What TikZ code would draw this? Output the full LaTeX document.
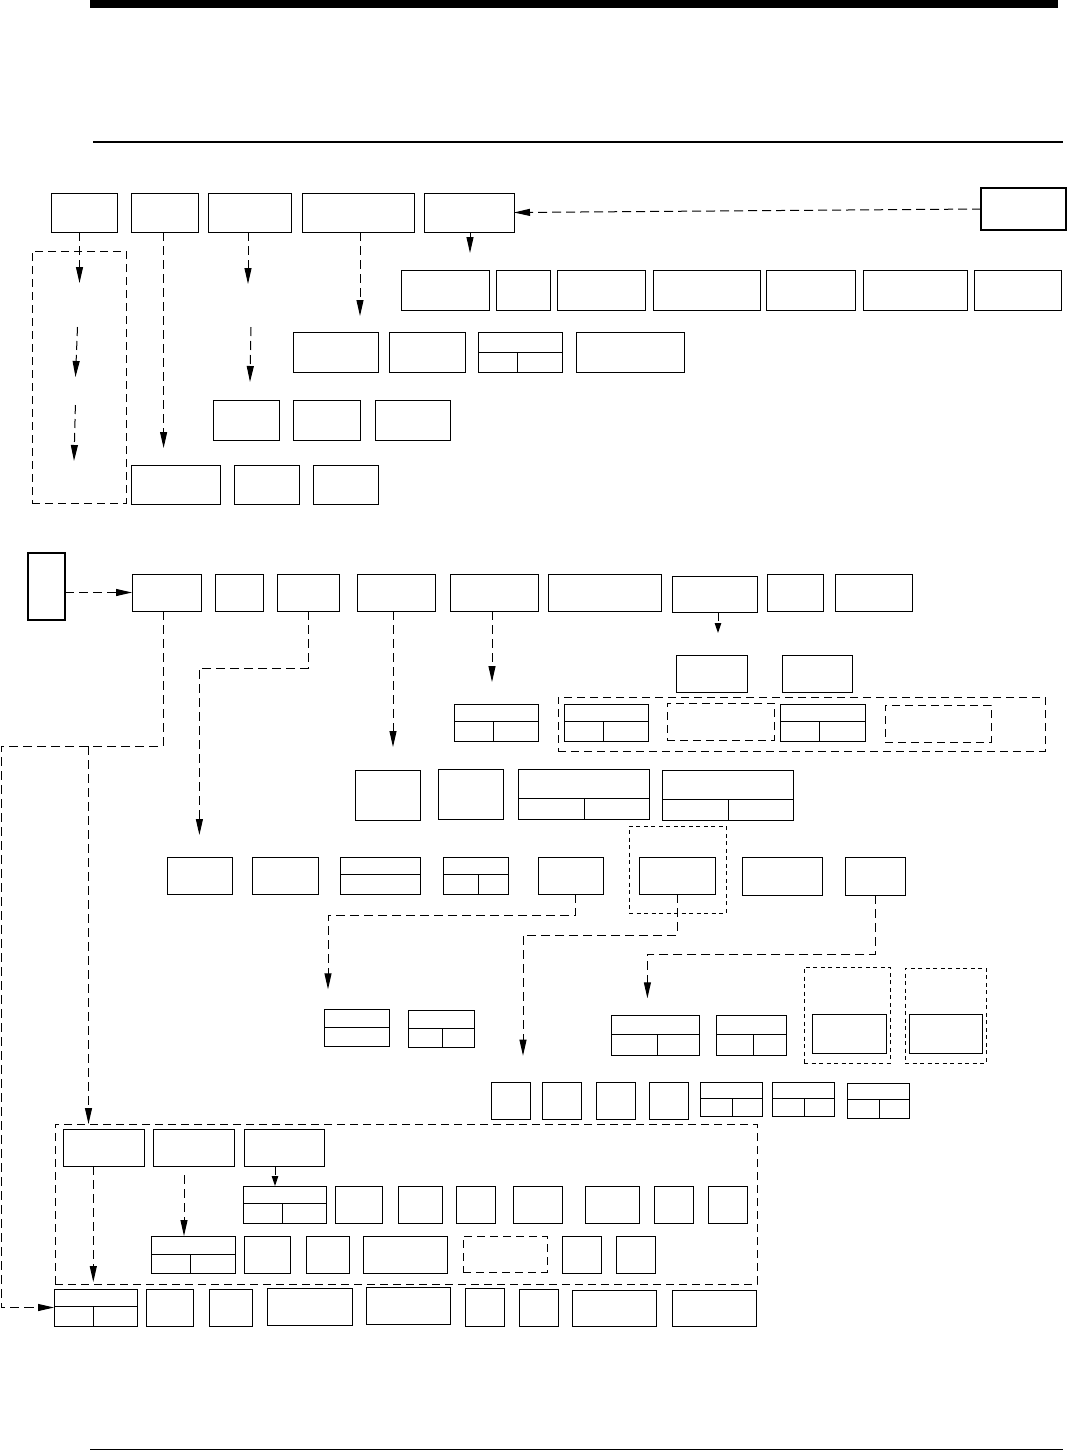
\documentclass[tikz,border=0pt]{standalone}
\usetikzlibrary{arrows.meta}
\tikzset{
  box/.style={draw, line width=1pt, inner sep=0pt, outer sep=0pt},
  thickbox/.style={box, line width=2.2pt},
  dbox/.style={box, dash pattern=on 8pt off 5pt},
  fdbox/.style={box, dash pattern=on 4pt off 3.5pt},
  conn/.style={line width=1pt, dash pattern=on 9pt off 5pt},
  arr/.style={conn, -{Triangle[length=16pt,width=7pt]}},
  sarr/.style={conn, -{Triangle[length=10pt,width=6.5pt]}},
  divl/.style={line width=1pt},
}
% box: [style]{name}{x1}{y1}{x2}{y2}
\newcommand{\Bx}[6][]{\pgfmathsetmacro\bxw{#5-#3}\pgfmathsetmacro\bxh{#6-#4}%
  \node[box,#1,minimum width=\bxw pt,minimum height=\bxh pt] (#2) at ({(#3+#5)/2},{(#4+#6)/2}) {};}
% split box: {name}{x1}{y1}{x2}{y2}{ydiv}{xdiv}
\newcommand{\SpBx}[7]{\Bx{#1}{#2}{#3}{#4}{#5}%
  \draw[divl] (#2,#6) -- (#4,#6); \draw[divl] (#7,#6) -- (#7,#5);}
% horizontally split box: {name}{x1}{y1}{x2}{y2}{ydiv}
\newcommand{\HSpBx}[6]{\Bx{#1}{#2}{#3}{#4}{#5}%
  \draw[divl] (#2,#6) -- (#4,#6);}
\begin{document}
\begin{tikzpicture}[x=1pt,y=-1pt]
\useasboundingbox (0,0) rectangle (1069,1451);
% header / footer rules
\fill (90,0) rectangle (1058,8);
\draw[line width=2pt] (93,142) -- (1063,142);
\draw[line width=1.3pt] (90,1449.5) -- (1063,1449.5);

% ---------------- section 1 ----------------
\Bx{A}{51}{193}{117}{232}
\Bx{B}{131}{193}{198}{232}
\Bx{C}{208}{193}{291}{232}
\Bx{D}{302}{193}{414}{232}
\Bx{E}{424}{193}{514}{232}
\Bx[thickbox]{Rbox}{981}{188}{1066}{230}

\Bx{E1}{401}{270}{489}{310}
\Bx{E2}{496}{270}{550}{310}
\Bx{E3}{557}{270}{645}{310}
\Bx{E4}{653}{270}{760}{310}
\Bx{E5}{766}{270}{855}{310}
\Bx{E6}{863}{270}{967}{310}
\Bx{E7}{974}{270}{1061}{310}

\Bx{D1}{293}{332}{378}{372}
\Bx{D2}{389}{332}{465}{372}
\SpBx{D3}{478}{332}{562}{372}{352}{517}
\Bx{D4}{576}{332}{684}{372}

\Bx{C1}{213}{400}{279}{440}
\Bx{C2}{293}{400}{360}{440}
\Bx{C3}{375}{400}{450}{440}

\Bx{G1}{131}{465}{220}{504}
\Bx{G2}{234}{465}{299}{504}
\Bx{G3}{313}{465}{378}{504}

\Bx[dbox]{LeftDash}{32}{251}{126}{503}

\coordinate (a1) at (79.5,283);
\coordinate (a2s) at (77.5,327); \coordinate (a2) at (75.5,377);
\coordinate (a3s) at (75.4,405); \coordinate (a3) at (74,461);
\coordinate (b1) at (163.6,448);
\coordinate (c1) at (248,284);
\coordinate (c2s) at (251,327); \coordinate (c2) at (250,382);
\coordinate (d1) at (360,316);
\coordinate (e1) at (470,253);
\draw[arr] (a1 |- A.south) -- (a1);
\draw[arr] (a2s) -- (a2);
\draw[arr] (a3s) -- (a3);
\draw[arr] (b1 |- B.south) -- (b1);
\draw[arr] (c1 |- C.south) -- (c1);
\draw[arr] (c2s) -- (c2);
\draw[arr] (d1 |- D.south) -- (d1);
\draw[arr] (e1 |- E.south) -- (e1);
\draw[arr] (Rbox.west) -- (E.east);

% ---------------- section 2 ----------------
\Bx[thickbox]{Lbox}{28}{553}{65}{620}
\Bx{P1}{132}{574}{201}{611}
\Bx{P2}{215}{574}{263}{611}
\Bx{P3}{277}{574}{339}{611}
\Bx{P4}{357}{574}{435}{611}
\Bx{P5}{450}{574}{538}{611}
\Bx{P6}{548}{574}{661}{611}
\Bx{P7}{672}{576}{757}{612}
\Bx{P8}{767}{574}{823}{611}
\Bx{P9}{835}{574}{912}{611}

\Bx{Q1}{676}{655}{747}{692}
\Bx{Q2}{782}{655}{852}{692}

\Bx[dbox]{BigDashP}{558}{697}{1045}{751}
\SpBx{R1}{564}{704}{648}{741}{721}{603}
\Bx[dbox]{R2}{667}{703}{774}{740}
\SpBx{R3}{780}{704}{865}{741}{721}{819}
\Bx[dbox]{R4}{885}{705}{991}{742}
\SpBx{S}{454}{704}{538}{741}{721}{493.5}

\Bx{T1}{355}{770}{420}{820}
\Bx{T2}{438}{769}{503}{819}
\SpBx{T3}{518}{769}{649}{819}{798}{584}
\SpBx{T4}{662}{770}{793}{820}{799}{728}

\Bx{V1}{167}{857}{232}{894}
\Bx{V2}{252}{857}{318}{894}
\HSpBx{V3}{340}{857}{420}{894}{874}
\SpBx{V4}{443}{857}{508}{894}{874}{478}
\Bx{V5}{538}{857}{603}{894}
\Bx{V6}{639}{857}{715}{894}
\Bx{V7}{742}{857}{822}{895}
\Bx{V8}{845}{857}{905}{895}
\Bx[fdbox]{UDash}{629}{826}{726}{913}

\HSpBx{W1}{324}{1009}{389}{1046}{1027}
\SpBx{W2}{408}{1010}{474}{1047}{1028}{442}

\Bx{X1}{491}{1082}{530}{1119}
\Bx{X2}{542}{1082}{581}{1119}
\Bx{X3}{596}{1082}{635}{1119}
\Bx{X4}{649}{1082}{688}{1119}
\SpBx{X5}{700}{1082}{762}{1116}{1098}{732}
\SpBx{X6}{772}{1082}{834}{1116}{1098}{804}
\SpBx{X7}{847}{1083}{909}{1118}{1099}{879}

\SpBx{Y1}{611}{1015}{699}{1055}{1034}{657}
\SpBx{Y2}{716}{1015}{786}{1055}{1034}{753}
\Bx[fdbox]{Z1}{804}{967}{890}{1063}
\Bx{Z1in}{812}{1014}{886}{1053}
\Bx[fdbox]{Z2}{905}{968}{986}{1063}
\Bx{Z2in}{909}{1014}{982}{1053}

% ---------------- bottom section ----------------
\Bx[dbox]{BigDashB}{55}{1124}{757}{1284}
\Bx{AA1}{63}{1129}{144}{1166}
\Bx{AA2}{153}{1129}{234}{1166}
\Bx{AA3}{244}{1129}{324}{1166}

\SpBx{BB1}{243}{1186}{326}{1223}{1203}{282}
\Bx{BB2}{335}{1186}{382}{1223}
\Bx{BB3}{398}{1186}{442}{1223}
\Bx{BB4}{456}{1186}{495}{1223}
\Bx{BB5}{513}{1186}{562}{1223}
\Bx{BB6}{585}{1186}{639}{1223}
\Bx{BB7}{654}{1186}{693}{1223}
\Bx{BB8}{708}{1186}{747}{1223}

\SpBx{CC1}{151}{1236}{235}{1273}{1254}{190}
\Bx{CC2}{244}{1236}{290}{1273}
\Bx{CC3}{306}{1236}{349}{1273}
\Bx{CC4}{363}{1236}{447}{1273}
\Bx[dbox]{CC5}{463}{1236}{547}{1272}
\Bx{CC6}{562}{1236}{601}{1273}
\Bx{CC7}{616}{1236}{655}{1273}

\SpBx{DD1}{54}{1289}{137}{1326}{1306}{93}
\Bx{DD2}{146}{1289}{193}{1326}
\Bx{DD3}{209}{1289}{252}{1326}
\Bx{DD4}{267}{1288}{352}{1325}
\Bx{DD5}{366}{1287}{450}{1324}
\Bx{DD6}{465}{1288}{504}{1326}
\Bx{DD7}{519}{1289}{558}{1326}
\Bx{DD8}{572}{1290}{656}{1326}
\Bx{DD9}{672}{1290}{756}{1326}

% ---------------- connectors ----------------
\draw[arr] (Lbox.east |- P1.west) -- (P1.west);

\coordinate (p1k) at (163,746);
\coordinate (p1l) at (1,746);
\coordinate (p1j) at (88.5,746);
\draw[arr] (p1k |- P1.south) -- (p1k) -- (p1l) |- (DD1.west);
\draw[arr] (p1j) -- (p1j |- BigDashB.north);

\coordinate (p3k) at (308,668);
\coordinate (p3t) at (199.4,835);
\draw[arr] (P3.south) -- (p3k) -| (p3t);

\coordinate (p4t) at (393,747);
\draw[arr] (p4t |- P4.south) -- (p4t);
\coordinate (p5t) at (492,682);
\draw[arr] (p5t |- P5.south) -- (p5t);
\coordinate (p7t) at (718,633);
\draw[sarr] (p7t |- P7.south) -- (p7t);

\coordinate (v5k) at (575.7,915.3);
\coordinate (v5t) at (328,989.3);
\draw[arr] (v5k |- V5.south) -- (v5k) -| (v5t);
\coordinate (v6k) at (677,935);
\coordinate (v6t) at (523,1055.7);
\draw[arr] (V6.south) -- (v6k) -| (v6t);
\coordinate (v8k) at (875,954.3);
\coordinate (v8t) at (647.4,998.3);
\draw[arr] (V8.south) -- (v8k) -| (v8t);

\coordinate (aa3) at (275,1176);
\draw[sarr] (aa3 |- AA3.south) -- (aa3 |- BB1.north);
\coordinate (aa2s) at (184,1175);
\draw[arr] (aa2s) -- (aa2s |- CC1.north);
\coordinate (aa1) at (93.3,1282);
\draw[arr] (aa1 |- AA1.south) -- (aa1);
\end{tikzpicture}
\end{document}
